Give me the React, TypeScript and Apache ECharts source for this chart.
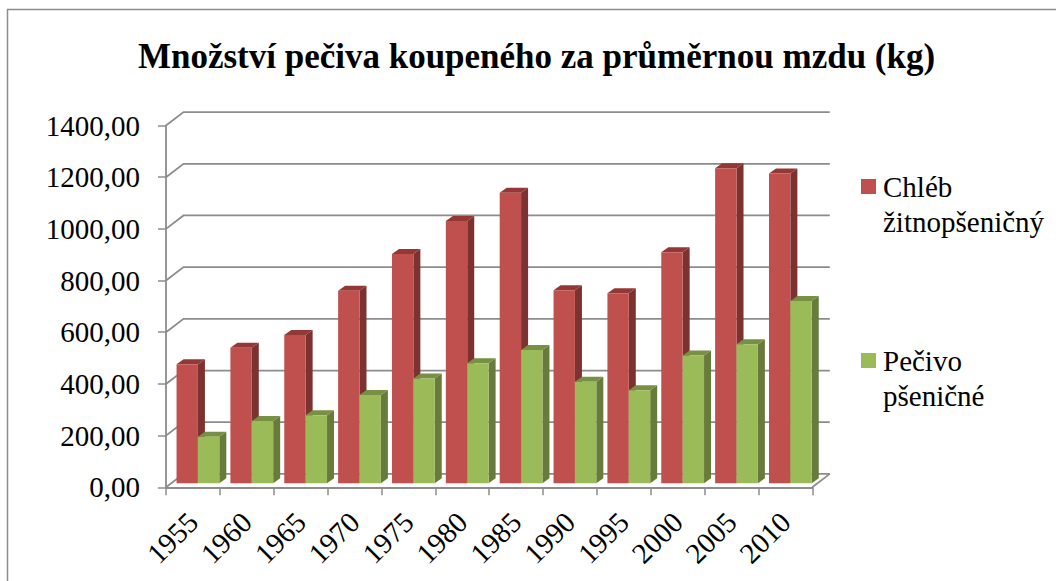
import React, { useEffect, useRef } from "react";
import * as echarts from "echarts";

const years = ["1955","1960","1965","1970","1975","1980","1985","1990","1995","2000","2005","2010"];
const chleb = [461, 525, 574, 745, 887, 1015, 1124, 747, 735, 894, 1219, 1199];
const pecivo = [180, 241, 263, 342, 406, 465, 516, 393, 360, 495, 538, 705];
const yTicks = [0, 200, 400, 600, 800, 1000, 1200, 1400];
const titleText = "Množství pečiva koupeného za průměrnou mzdu (kg)";
const redName = "Chléb žitnopšeničný";
const greenName = "Pečivo pšeničné";
const legendLines: Record<string, string> = {
  [redName]: "\nChléb\nžitnopšeničný",
  [greenName]: "\nPečivo\npšeničné",
};

const FONT = "'Liberation Serif', 'Times New Roman', serif";
const AXIS = "#8c8c8c";
const WALL_DX = 17.5;
const WALL_DY = 13.4;
const BAR_DX = 7;
const BAR_DY = 5;
const BAR_SHIFT_X = 5;
const BAR_SHIFT_Y = 4;

function wallItem(params: any, api: any) {
  const cs = params.coordSys;
  const v = api.value(1);
  const y = api.coord([0, v])[1];
  const left = cs.x;
  const right = cs.x + cs.width;
  const style = { stroke: AXIS, lineWidth: 1.8, fill: "none" };
  const children: any[] = [
    {
      type: "polyline",
      shape: { points: [[left, y], [left + WALL_DX, y - WALL_DY], [right + WALL_DX, y - WALL_DY]] },
      style,
    },
  ];
  if (v === 0) {
    children.push({
      type: "polyline",
      shape: { points: [[right + WALL_DX, y - WALL_DY], [right, y]] },
      style,
    });
  }
  return { type: "group", children };
}

function barItem(slot: number, front: string, top: string, side: string) {
  return (params: any, api: any) => {
    const cat = api.value(0);
    const val = api.value(1);
    const catW = api.size([1, 0])[0];
    const w = catW * 0.397;
    const c = api.coord([cat, val]);
    const base = api.coord([cat, 0]);
    const x = c[0] - w + slot * w + BAR_SHIFT_X;
    const yt = c[1] - BAR_SHIFT_Y;
    const yb = base[1] - BAR_SHIFT_Y;
    return {
      type: "group",
      children: [
        {
          type: "polygon",
          shape: { points: [[x + w, yt], [x + w + BAR_DX, yt - BAR_DY], [x + w + BAR_DX, yb - BAR_DY], [x + w, yb]] },
          style: { fill: side },
        },
        {
          type: "polygon",
          shape: { points: [[x, yt], [x + BAR_DX, yt - BAR_DY], [x + w + BAR_DX, yt - BAR_DY], [x + w, yt]] },
          style: { fill: top },
        },
        { type: "rect", shape: { x, y: yt, width: w, height: yb - yt }, style: { fill: front } },
      ],
    };
  };
}

export default function App() {
  const ref = useRef<HTMLDivElement>(null);
  useEffect(() => {
    const chart = echarts.init(ref.current!, undefined, { renderer: "svg" });
    chart.setOption({
      animation: false,
      backgroundColor: "#ffffff",
      textStyle: { fontFamily: FONT },
      title: {
        text: titleText,
        left: 531.5,
        top: 33.5,
        textAlign: "center",
        textStyle: { fontFamily: FONT, fontSize: 35, fontWeight: "bold", color: "#000" },
      },
      grid: { left: 166, top: 125.5, width: 646.3, height: 361.8, containLabel: false },
      legend: {
        orient: "vertical",
        left: 861,
        top: 134,
        padding: 0,
        icon: "rect",
        itemWidth: 15,
        itemHeight: 15,
        itemGap: 69,
        data: [redName, greenName],
        formatter: (n: string) => legendLines[n],
        textStyle: {
          fontFamily: FONT,
          fontSize: 29,
          lineHeight: 35,
          color: "#000",
          padding: [0, 0, 0, 2],
        },
      },
      xAxis: {
        type: "category",
        data: years,
        boundaryGap: true,
        axisLine: { show: true, lineStyle: { color: AXIS, width: 1.8 } },
        axisTick: { show: true, interval: 0, alignWithLabel: false, length: 8, lineStyle: { color: AXIS, width: 1.5 } },
        axisLabel: {
          interval: 0,
          rotate: 45,
          margin: 30,
          color: "#000",
          fontFamily: FONT,
          fontSize: 29,
        },
      },
      yAxis: {
        type: "value",
        min: 0,
        max: 1400,
        interval: 200,
        splitLine: { show: false },
        axisLine: { show: true, lineStyle: { color: AXIS, width: 1.8 } },
        axisTick: { show: true, length: 8, lineStyle: { color: AXIS, width: 1.5 } },
        axisLabel: {
          margin: 26,
          color: "#000",
          fontFamily: FONT,
          fontSize: 29,
          formatter: (v: number) => v.toFixed(2).replace(".", ","),
        },
      },
      graphic: [
        {
          type: "polyline",
          shape: { points: [[7.5, 581], [7.5, 9.5], [1056, 9.5]] },
          style: { stroke: "#8c8c8c", lineWidth: 1.5, fill: "none" },
          silent: true,
        },
      ],
      series: [
        {
          type: "custom",
          z: 1,
          silent: true,
          clip: false,
          renderItem: wallItem,
          encode: { x: 0, y: 1 },
          data: yTicks.map((t) => [0, t]),
        },
        {
          type: "custom",
          name: redName,
          z: 2,
          clip: false,
          itemStyle: { color: "#C0504D" },
          renderItem: barItem(0, "#C0504D", "#933835", "#7C3230"),
          encode: { x: 0, y: 1 },
          data: chleb.map((v, i) => [i, v]),
        },
        {
          type: "custom",
          name: greenName,
          z: 3,
          clip: false,
          itemStyle: { color: "#9BBB59" },
          renderItem: barItem(1, "#9BBB59", "#779043", "#677B3B"),
          encode: { x: 0, y: 1 },
          data: pecivo.map((v, i) => [i, v]),
        },
      ],
    });
    return () => chart.dispose();
  }, []);
  return <div ref={ref} style={{ position: "fixed", left: 0, top: 0, width: 1056, height: 581 }} />;
}
